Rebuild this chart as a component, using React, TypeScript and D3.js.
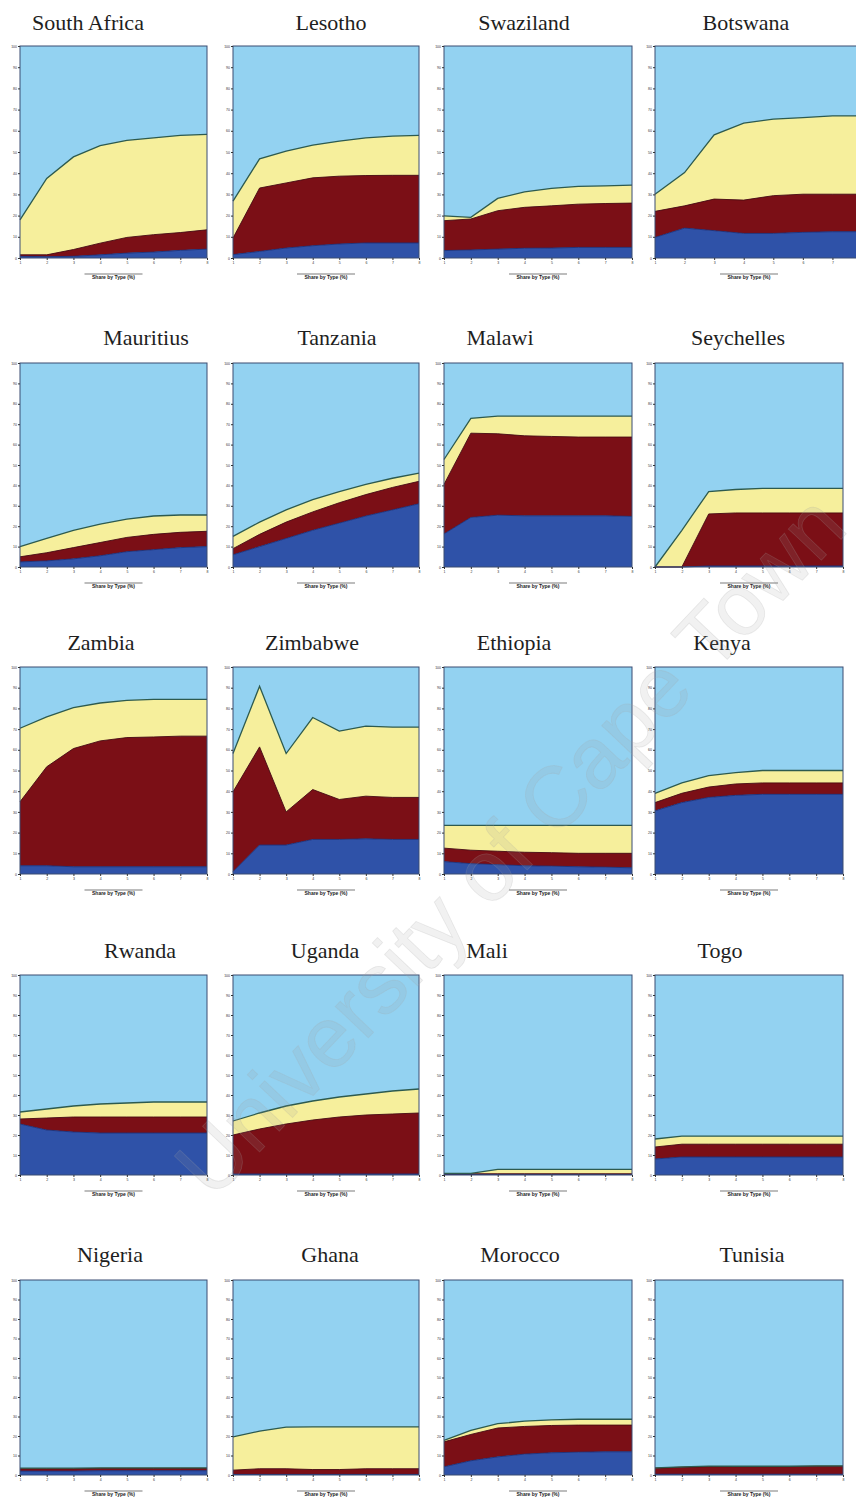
import React, { useEffect, useRef } from "react";
import * as d3 from "d3";

const countries = [
  "South Africa", "Lesotho", "Swaziland", "Botswana",
  "Mauritius", "Tanzania", "Malawi", "Seychelles",
  "Zambia", "Zimbabwe", "Ethiopia", "Kenya",
  "Rwanda", "Uganda", "Mali", "Togo",
  "Nigeria", "Ghana", "Morocco", "Tunisia",
];

// bottom layer (blue)
const blueShare = [
  [0.8, 0.6, 0.8, 1.5, 2.3, 2.8, 3.6, 4.2],
  [1.6, 3.1, 4.7, 5.8, 6.6, 7.1, 7.1, 7.1],
  [3.5, 3.8, 4.2, 4.6, 4.7, 5, 5, 5],
  [9.7, 14.1, 12.9, 11.6, 11.6, 12.1, 12.4, 12.4],
  [2.5, 3, 4, 5.5, 7.5, 8.5, 9.5, 10],
  [6, 10, 14, 18, 21.5, 25, 28, 31],
  [16.2, 24.3, 25.4, 25.1, 25.1, 25.1, 25.1, 24.8],
  [0, 0, 0.5, 0.5, 0.5, 0.5, 0.5, 0.5],
  [4, 4, 3.5, 3.5, 3.5, 3.5, 3.5, 3.5],
  [1.1, 14, 14, 16.7, 16.7, 17, 16.7, 16.7],
  [6, 5, 4.5, 4, 3.8, 3.5, 3.3, 3],
  [30.5, 34.5, 37, 38, 38.5, 38.5, 38.5, 38.5],
  [25.5, 22.5, 21.5, 21, 21, 21, 21, 21],
  [0.5, 0.5, 0.5, 0.5, 0.5, 0.5, 0.5, 0.5],
  [0.3, 0.3, 0.3, 0.3, 0.3, 0.3, 0.3, 0.3],
  [8, 9, 9, 9, 9, 9, 9, 9],
  [2, 2, 2, 2.2, 2.2, 2.2, 2.2, 2.2],
  [0.3, 0.3, 0.3, 0.3, 0.3, 0.3, 0.3, 0.3],
  [4.2, 7.3, 9.3, 10.7, 11.4, 11.7, 11.9, 11.9],
  [0.4, 0.4, 0.4, 0.4, 0.4, 0.4, 0.4, 0.4],
];

// middle layer (dark red)
const redShare = [
  [0.7, 0.9, 3.2, 5.5, 7.4, 8.2, 8.4, 9.1],
  [7.8, 29.9, 30.7, 32, 32, 31.8, 31.9, 31.9],
  [14.1, 14.6, 18.1, 19.3, 19.9, 20.4, 20.7, 20.9],
  [12.3, 10.5, 14.9, 15.7, 17.8, 18, 17.7, 17.7],
  [2.5, 4, 5.5, 6.5, 7, 7.5, 7.5, 7.5],
  [3, 6, 8, 9, 10, 10.5, 11, 11],
  [24.3, 41.3, 39.9, 39.2, 38.9, 38.6, 38.6, 38.9],
  [0, 0, 25.5, 26, 26, 26, 26, 26],
  [30.9, 47.8, 57.1, 60.8, 62.4, 62.7, 63.1, 63.1],
  [38.6, 47.4, 16, 24.1, 19.3, 20.6, 20.3, 20.3],
  [6.5, 6.5, 6.5, 6.5, 6.5, 6.5, 6.7, 7],
  [4, 4.5, 5, 5.5, 5.5, 5.5, 5.5, 5.5],
  [2.5, 6, 7.5, 8, 8, 8, 8, 8],
  [19.5, 22.5, 25, 27, 28.5, 29.5, 30, 30.5],
  [0.3, 0.3, 0.3, 0.3, 0.3, 0.3, 0.3, 0.3],
  [6, 6.4, 6.4, 6.4, 6.4, 6.4, 6.4, 6.4],
  [1.2, 1.2, 1.2, 1.2, 1.2, 1.2, 1.2, 1.2],
  [2.2, 2.9, 2.9, 2.5, 2.5, 2.9, 2.9, 2.9],
  [12.8, 13.5, 14.8, 14.2, 14, 13.9, 13.7, 13.7],
  [3.1, 3.6, 3.9, 3.9, 3.9, 3.9, 4.1, 4.1],
];

// upper layer (yellow); remainder up to 100 is light blue
const yellowShare = [
  [16.5, 36, 43.7, 46, 45.8, 45.7, 45.8, 45],
  [17.4, 13.8, 15, 15.4, 16.5, 17.8, 18.5, 18.8],
  [2.3, 0.8, 5.8, 7.3, 8.2, 8.4, 8.3, 8.5],
  [8.1, 15.7, 30.3, 36.3, 36.1, 36.1, 36.9, 36.9],
  [5, 7, 8.5, 9, 9, 9, 8.5, 8],
  [6, 6, 6, 6, 5.5, 5, 4.5, 4],
  [12.2, 7.3, 8.7, 9.7, 10, 10.3, 10.3, 10.3],
  [0, 18, 11, 11.5, 12, 12, 12, 12],
  [35.5, 24.1, 19.8, 18.3, 18, 18.2, 17.8, 17.8],
  [18.5, 29.3, 28.2, 34.8, 33, 33.8, 34, 34],
  [11, 12, 12.5, 13, 13.2, 13.5, 13.5, 13.5],
  [4.5, 5, 5.5, 5.5, 6, 6, 6, 6],
  [3.5, 4.5, 5.5, 6.5, 7, 7.5, 7.5, 7.5],
  [7, 8, 9, 9.5, 10, 10.5, 11.5, 12],
  [0.2, 0.2, 2.2, 2.2, 2.2, 2.2, 2.2, 2.2],
  [4, 4, 4, 4, 4, 4, 4, 4],
  [0.3, 0.3, 0.3, 0.3, 0.3, 0.3, 0.3, 0.3],
  [17.1, 19.3, 21.3, 21.9, 21.9, 21.5, 21.5, 21.5],
  [0.8, 2.1, 2.2, 2.7, 2.9, 3, 3, 3],
  [0.2, 0.2, 0.2, 0.2, 0.2, 0.2, 0.2, 0.2],
];

const xLabels = ["1", "2", "3", "4", "5", "6", "7", "8"];
const yTicks = [0, 10, 20, 30, 40, 50, 60, 70, 80, 90, 100];
const legendText = "Share by Type (%)";

// layout
const colLeft = [20, 233, 444, 655];
const colWidth = [187, 186, 188, 188];
const rowTop = [46, 363, 667, 975, 1280];
const rowBottom = [258, 567, 874, 1175, 1475];
const titleBase = [30, 345, 650, 958, 1262];
const titleCenter = [
  88, 331, 524, 746,
  146, 337, 500, 738,
  101, 312, 514, 722,
  140, 325, 487, 720,
  110, 330, 520, 752,
];
const pageWidth = 856;

const colors = {
  sky: "#93d2f1",
  yellow: "#f6ef9c",
  red: "#7b0f16",
  blue: "#2f52a8",
};
const edge = ["#1d2f78", "#4b0a0e", "#2d5a4e"];

const App: React.FC = () => {
  const svgRef = useRef(null);

  useEffect(() => {
    const svg = d3.select(svgRef.current);
    svg.selectAll("*").remove();

    countries.forEach((name, i) => {
      const row = Math.floor(i / 4);
      const col = i % 4;
      const left = colLeft[col];
      const width = name === "Botswana" ? 207 : colWidth[col];
      const top = rowTop[row];
      const bottom = rowBottom[row];

      const x = d3.scaleLinear().domain([0, xLabels.length - 1]).range([left, left + width]);
      const y = d3.scaleLinear().domain([0, 100]).range([bottom, top]);

      const rows = xLabels.map((_, k) => ({
        k,
        blue: blueShare[i][k],
        red: redShare[i][k],
        yellow: yellowShare[i][k],
      }));
      const series = d3.stack<any>().keys(["blue", "red", "yellow"])(rows);

      const g = svg.append("g");

      g.append("rect")
        .attr("x", left)
        .attr("y", top)
        .attr("width", width)
        .attr("height", bottom - top)
        .attr("fill", colors.sky);

      const area = d3
        .area<any>()
        .x((d: any) => x(d.data.k))
        .y0((d: any) => y(d[0]))
        .y1((d: any) => y(d[1]));

      const line = d3
        .line<any>()
        .x((d: any) => x(d.data.k))
        .y((d: any) => y(d[1]));

      const fills = [colors.blue, colors.red, colors.yellow];
      [2, 1, 0].forEach((s) => {
        g.append("path").attr("d", area(series[s] as any)).attr("fill", fills[s]);
      });
      [0, 1, 2].forEach((s) => {
        g.append("path")
          .attr("d", line(series[s] as any))
          .attr("fill", "none")
          .attr("stroke", edge[s])
          .attr("stroke-width", s === 2 ? 1.3 : 0.9);
      });

      g.append("rect")
        .attr("x", left)
        .attr("y", top)
        .attr("width", width)
        .attr("height", bottom - top)
        .attr("fill", "none")
        .attr("stroke", "#3b4d73")
        .attr("stroke-width", 1);

      const yAxis = g
        .append("g")
        .attr("transform", `translate(${left},0)`)
        .call(d3.axisLeft(y).tickValues(yTicks).tickSize(2).tickPadding(1));
      yAxis.select(".domain").remove();
      yAxis.selectAll("text").style("font-size", "3.5px").style("font-family", "Liberation Sans").attr("fill", "#333");
      yAxis.selectAll("line").attr("stroke", "#333");

      // only ticks that fall inside the page
      const xTicks = d3.range(xLabels.length).filter((k) => x(k) < pageWidth - 3);
      const xAxis = g
        .append("g")
        .attr("transform", `translate(0,${bottom})`)
        .call(
          d3
            .axisBottom(x)
            .tickValues(xTicks)
            .tickSize(2)
            .tickPadding(2)
            .tickFormat((d: any) => xLabels[d])
        );
      xAxis.select(".domain").remove();
      xAxis.selectAll("text").style("font-size", "3.5px").style("font-family", "Liberation Sans").attr("fill", "#333");
      xAxis.selectAll("line").attr("stroke", "#333");

      g.append("text")
        .attr("x", titleCenter[i])
        .attr("y", titleBase[row])
        .attr("text-anchor", "middle")
        .style("font-family", "Liberation Serif")
        .style("font-size", "22px")
        .attr("fill", "#1e1e1e")
        .text(name);

      const cx = left + Math.min(width, 188) / 2;
      const ly = bottom + 21;
      g.append("line")
        .attr("x1", cx - 29)
        .attr("x2", cx + 29)
        .attr("y1", ly - 5)
        .attr("y2", ly - 5)
        .attr("stroke", "#222")
        .attr("stroke-width", 0.6);
      g.append("text")
        .attr("x", cx)
        .attr("y", ly)
        .attr("text-anchor", "middle")
        .style("font-family", "Liberation Sans")
        .style("font-size", "5px")
        .style("font-weight", "bold")
        .attr("fill", "#222")
        .text(legendText);
    });

    // watermark
    svg
      .append("text")
      .attr("transform", "translate(515,850) rotate(-46.5)")
      .attr("text-anchor", "middle")
      .attr("dominant-baseline", "middle")
      .style("font-family", "Liberation Sans")
      .style("font-size", "86px")
      .attr("fill", "#9a9a9a")
      .attr("fill-opacity", 0.14)
      .attr("stroke", "#a8a8a8")
      .attr("stroke-opacity", 0.22)
      .attr("stroke-width", 0.8)
      .text("University of Cape Town");

    return () => {
      svg.selectAll("*").remove();
    };
  }, []);

  return (
    <svg
      ref={svgRef}
      width={856}
      height={1507}
      style={{ position: "absolute", left: 0, top: 0, background: "#fff", display: "block" }}
    />
  );
};

export default App;
